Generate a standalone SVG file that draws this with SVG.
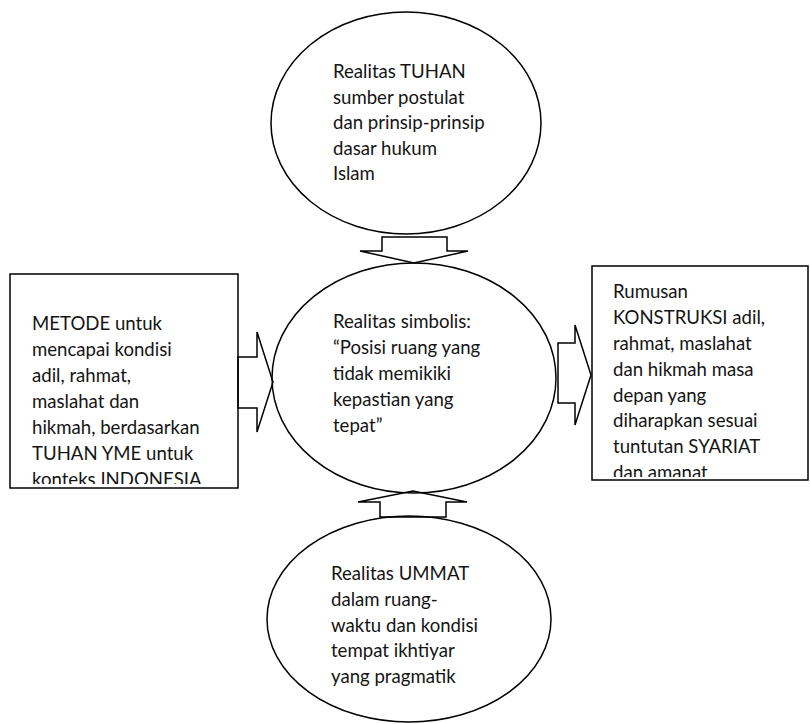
<svg xmlns="http://www.w3.org/2000/svg" width="810" height="724" viewBox="0 0 810 724">
  <style>
    .shape { fill: none; stroke: #000; stroke-width: 1.5; }
    .arrow { fill: none; stroke: #000; stroke-width: 1.5; stroke-linejoin: miter; }
    .label { font-family: Lato, "Open Sans", "Liberation Sans", sans-serif; font-size: 18.6px; fill: #141414; }
  </style>
  <defs>
    <clipPath id="clip-left"><rect x="10" y="274" width="228" height="210"/></clipPath>
    <clipPath id="clip-right"><rect x="592" y="266" width="216" height="211"/></clipPath>
  </defs>
  <rect width="810" height="724" fill="#fff"/>

  <!-- Top: Realitas TUHAN -->
  <g id="node-tuhan">
    <ellipse class="shape" cx="406" cy="123" rx="135" ry="111"/>
    <text class="label">
      <tspan x="333" y="78">Realitas TUHAN</tspan>
      <tspan x="333" y="103.5">sumber postulat</tspan>
      <tspan x="333" y="129">dan prinsip-prinsip</tspan>
      <tspan x="333" y="154.5">dasar hukum</tspan>
      <tspan x="333" y="180">Islam</tspan>
    </text>
  </g>

  <!-- Centre: Realitas simbolis -->
  <g id="node-simbolis">
    <ellipse class="shape" cx="414" cy="378" rx="142" ry="115"/>
    <text class="label">
      <tspan x="333" y="328">Realitas simbolis:</tspan>
      <tspan x="333" y="354">“Posisi ruang yang</tspan>
      <tspan x="333" y="380">tidak memikiki</tspan>
      <tspan x="333" y="406">kepastian yang</tspan>
      <tspan x="333" y="432">tepat”</tspan>
    </text>
  </g>

  <!-- Bottom: Realitas UMMAT -->
  <g id="node-ummat">
    <ellipse class="shape" cx="409" cy="619" rx="142" ry="103"/>
    <text class="label">
      <tspan x="331" y="580">Realitas UMMAT</tspan>
      <tspan x="331" y="606">dalam ruang-</tspan>
      <tspan x="331" y="632">waktu dan kondisi</tspan>
      <tspan x="331" y="657">tempat ikhtiyar</tspan>
      <tspan x="331" y="683">yang pragmatik</tspan>
    </text>
  </g>

  <!-- Left: METODE -->
  <g id="node-metode">
    <rect class="shape" x="10" y="274" width="228" height="214"/>
    <text class="label" clip-path="url(#clip-left)">
      <tspan x="32" y="330">METODE untuk</tspan>
      <tspan x="32" y="356">mencapai kondisi</tspan>
      <tspan x="32" y="382">adil, rahmat,</tspan>
      <tspan x="32" y="408">maslahat dan</tspan>
      <tspan x="32" y="434">hikmah, berdasarkan</tspan>
      <tspan x="32" y="460">TUHAN YME untuk</tspan>
      <tspan x="32" y="486">konteks INDONESIA</tspan>
    </text>
  </g>

  <!-- Right: Rumusan KONSTRUKSI -->
  <g id="node-konstruksi">
    <rect class="shape" x="592" y="266" width="216" height="214"/>
    <text class="label" clip-path="url(#clip-right)">
      <tspan x="613" y="298">Rumusan</tspan>
      <tspan x="613" y="324">KONSTRUKSI adil,</tspan>
      <tspan x="613" y="350">rahmat, maslahat</tspan>
      <tspan x="613" y="376">dan hikmah masa</tspan>
      <tspan x="613" y="402">depan yang</tspan>
      <tspan x="613" y="427">diharapkan sesuai</tspan>
      <tspan x="613" y="453">tuntutan SYARIAT</tspan>
      <tspan x="613" y="479">dan amanat</tspan>
    </text>
  </g>

  <!-- Block arrows -->
  <g id="connectors">
    <polygon class="arrow" points="382,237 447,237 447,251 468,251 414,263 360,251 382,251"/>
    <polygon class="arrow" points="380,517 446,517 446,502 467,502 413,491 358,502 380,502"/>
    <polygon class="arrow" points="238,357 257,357 257,332 273,382 257,432 257,408 238,408"/>
    <polygon class="arrow" points="558,343 575,343 575,325 591,375 575,425 575,403 558,403"/>
  </g>
</svg>
